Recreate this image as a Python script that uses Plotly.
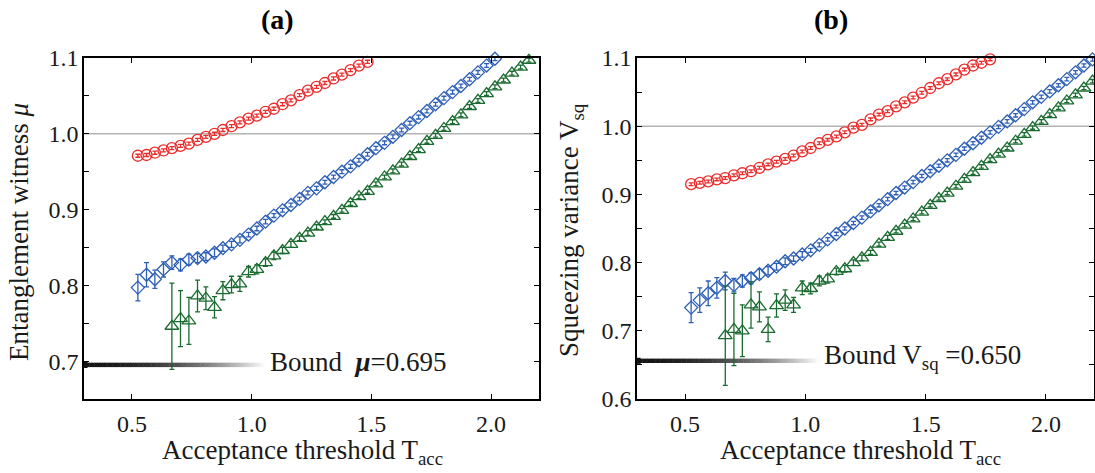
import plotly.graph_objects as go

# ---------------- data ----------------
T_acc = [0.525, 0.561, 0.596, 0.632, 0.667, 0.703, 0.738, 0.774, 0.809, 0.845,
         0.880, 0.916, 0.951, 0.987, 1.022, 1.058, 1.093, 1.129, 1.164, 1.200,
         1.235, 1.271, 1.306, 1.342, 1.377, 1.413, 1.448, 1.484, 1.519, 1.555,
         1.590, 1.626, 1.661, 1.697, 1.732, 1.768, 1.803, 1.839, 1.874, 1.910,
         1.945, 1.981, 2.016, 2.052, 2.087, 2.123, 2.158, 2.194]

# panel (a): entanglement witness mu
a_red_x = T_acc[0:28]
a_red = [0.971, 0.972, 0.975, 0.978, 0.981, 0.984, 0.987, 0.992, 0.996, 1.000,
         1.005, 1.010, 1.015, 1.020, 1.024, 1.029, 1.033, 1.039, 1.044, 1.051,
         1.057, 1.062, 1.067, 1.073, 1.078, 1.084, 1.090, 1.095]
a_red_err = [0.002] * 28

a_blue_x = T_acc[0:43]
a_blue = [0.797, 0.814, 0.808, 0.821, 0.830, 0.827, 0.834, 0.836, 0.838, 0.843,
          0.849, 0.854, 0.860, 0.867, 0.875, 0.884, 0.892, 0.899, 0.906, 0.914,
          0.922, 0.928, 0.936, 0.943, 0.950, 0.957, 0.965, 0.973, 0.981, 0.988,
          0.996, 1.005, 1.014, 1.022, 1.030, 1.039, 1.047, 1.055, 1.063, 1.072,
          1.081, 1.090, 1.099]
a_blue_err = [0.0175, 0.016, 0.012, 0.010, 0.009, 0.008, 0.007, 0.006, 0.005, 0.005,
              0.004, 0.004, 0.004, 0.003, 0.003, 0.003, 0.0025, 0.0025, 0.0025, 0.0025,
              0.0025, 0.0025, 0.0025, 0.0025, 0.0025, 0.0025, 0.0025, 0.0025, 0.0025, 0.0025,
              0.0025, 0.0025, 0.0025, 0.0025, 0.0025, 0.0025, 0.0025, 0.0025, 0.0025, 0.0025,
              0.0025, 0.0025, 0.0025]

a_green_x = T_acc[4:47]
a_green = [0.746, 0.756, 0.753, 0.786, 0.783, 0.771, 0.793, 0.801, 0.802, 0.818,
           0.821, 0.830, 0.839, 0.846, 0.854, 0.862, 0.869, 0.877, 0.884, 0.891,
           0.899, 0.908, 0.917, 0.924, 0.934, 0.943, 0.951, 0.960, 0.970, 0.979,
           0.990, 0.998, 1.007, 1.016, 1.025, 1.036, 1.044, 1.053, 1.062, 1.071,
           1.080, 1.088, 1.097]
a_green_err = [0.057, 0.037, 0.031, 0.021, 0.015, 0.014, 0.012, 0.011, 0.010, 0.007,
               0.006, 0.005, 0.005, 0.004, 0.004, 0.003, 0.003, 0.003, 0.0025, 0.0025,
               0.0025, 0.0025, 0.0025, 0.0025, 0.0025, 0.0025, 0.0025, 0.0025, 0.0025, 0.0025,
               0.0025, 0.0025, 0.0025, 0.0025, 0.0025, 0.0025, 0.0025, 0.0025, 0.0025, 0.0025,
               0.0025, 0.0025, 0.0025]

# panel (b): squeezing variance V_sq
b_red_x = T_acc[0:36]
b_red = [0.915, 0.917, 0.919, 0.922, 0.924, 0.928, 0.931, 0.934, 0.939, 0.944,
         0.948, 0.952, 0.957, 0.963, 0.968, 0.975, 0.980, 0.985, 0.991, 0.998,
         1.002, 1.010, 1.017, 1.022, 1.029, 1.035, 1.042, 1.049, 1.056, 1.063,
         1.069, 1.076, 1.083, 1.089, 1.093, 1.098]
b_red_err = [0.002] * 36

b_blue_x = T_acc[0:48]
b_blue = [0.734, 0.745, 0.755, 0.763, 0.773, 0.767, 0.773, 0.777, 0.783, 0.788,
          0.794, 0.802, 0.806, 0.812, 0.818, 0.826, 0.834, 0.842, 0.850, 0.858,
          0.866, 0.875, 0.884, 0.893, 0.902, 0.910, 0.918, 0.927, 0.934, 0.942,
          0.950, 0.958, 0.967, 0.975, 0.983, 0.991, 0.999, 1.007, 1.016, 1.025,
          1.035, 1.043, 1.051, 1.060, 1.069, 1.079, 1.089, 1.098]
b_blue_err = [0.022, 0.018, 0.018, 0.015, 0.013, 0.010, 0.009, 0.008, 0.007, 0.006,
              0.005, 0.005, 0.004, 0.004, 0.003, 0.003, 0.0025, 0.0025, 0.0025, 0.0025,
              0.0025, 0.0025, 0.0025, 0.0025, 0.0025, 0.0025, 0.0025, 0.0025, 0.0025, 0.0025,
              0.0025, 0.0025, 0.0025, 0.0025, 0.0025, 0.0025, 0.0025, 0.0025, 0.0025, 0.0025,
              0.0025, 0.0025, 0.0025, 0.0025, 0.0025, 0.0025, 0.0025, 0.0025]

b_green_x = T_acc[4:48]
b_green = [0.693, 0.702, 0.700, 0.738, 0.735, 0.702, 0.737, 0.745, 0.738, 0.763,
           0.762, 0.773, 0.776, 0.787, 0.791, 0.800, 0.807, 0.815, 0.827, 0.837,
           0.846, 0.855, 0.864, 0.874, 0.884, 0.894, 0.902, 0.912, 0.922, 0.932,
           0.941, 0.951, 0.959, 0.968, 0.978, 0.988, 0.998, 1.007, 1.017, 1.027,
           1.037, 1.046, 1.056, 1.066]
b_green_err = [0.073, 0.053, 0.038, 0.034, 0.022, 0.018, 0.017, 0.015, 0.011, 0.010,
               0.008, 0.007, 0.006, 0.005, 0.005, 0.004, 0.004, 0.003, 0.003, 0.003,
               0.0025, 0.0025, 0.0025, 0.0025, 0.0025, 0.0025, 0.0025, 0.0025, 0.0025, 0.0025,
               0.0025, 0.0025, 0.0025, 0.0025, 0.0025, 0.0025, 0.0025, 0.0025, 0.0025, 0.0025,
               0.0025, 0.0025, 0.0025, 0.0025]

bound_a_value = 0.695
bound_b_value = 0.656
bound_a_label = "Bound  <b><i>μ</i></b>=0.695"
bound_b_label = "Bound V<sub>sq</sub> =0.650"
x_ticks = [0.5, 1.0, 1.5, 2.0]
ya_ticks = [0.7, 0.8, 0.9, 1.0, 1.1]
yb_ticks = [0.6, 0.7, 0.8, 0.9, 1.0, 1.1]

# ---------------- style ----------------
RED = "#ec2b2b"
BLUE = "#2d5fb6"
GREEN = "#1a6b30"
FONT = "Liberation Serif"
W, H = 1095, 473

fig = go.Figure()


def add_series(x, y, err, color, symbol, size, xa, ya):
    fig.add_trace(go.Scatter(
        x=x, y=y, mode="markers", xaxis=xa, yaxis=ya, cliponaxis=False,
        marker=dict(symbol=symbol, size=size, color=color,
                    line=dict(color=color, width=1.3)),
        error_y=dict(type="data", array=err, color=color, thickness=1.3, width=2.5),
        showlegend=False, hoverinfo="x+y"))


add_series(a_red_x, a_red, a_red_err, RED, "circle-open", 11, "x", "y")
add_series(a_blue_x, a_blue, a_blue_err, BLUE, "diamond-open", 10, "x", "y")
add_series(a_green_x, a_green, a_green_err, GREEN, "triangle-up-open", 12, "x", "y")
add_series(b_red_x, b_red, b_red_err, RED, "circle-open", 11, "x2", "y2")
add_series(b_blue_x, b_blue, b_blue_err, BLUE, "diamond-open", 10, "x2", "y2")
add_series(b_green_x, b_green, b_green_err, GREEN, "triangle-up-open", 12, "x2", "y2")

shapes = []
# reference line at 1.0
for xr, yr in (("x", "y"), ("x2", "y2")):
    shapes.append(dict(type="line", xref=xr, yref=yr, x0=0.3, x1=2.2, y0=1.0, y1=1.0,
                       line=dict(color="#b3b3b3", width=1.6), layer="below"))


# gradient bound bars
def gradient_bar(xr, yr, yval, half):
    n = 70
    x0, x1 = 0.3, 1.055
    for i in range(n):
        t = i / (n - 1)
        c = int(22 + 228 * t ** 2)
        xa = x0 + (x1 - x0) * i / n
        xb = x0 + (x1 - x0) * (i + 1) / n
        shapes.append(dict(type="rect", xref=xr, yref=yr, x0=xa, x1=xb + 0.002,
                           y0=yval - half, y1=yval + half,
                           fillcolor=f"rgb({c},{c},{c})", line=dict(width=0),
                           layer="below"))
    shapes.append(dict(type="rect", xref=xr, yref=yr, x0=0.288, x1=0.315,
                       y0=yval - half * 1.4, y1=yval + half * 1.4,
                       fillcolor="#111111", line=dict(width=0)))


gradient_bar("x", "y", bound_a_value, 0.0029)
gradient_bar("x2", "y2", bound_b_value, 0.0032)

axis_common = dict(showline=True, linecolor="black", linewidth=1.5, mirror="ticks",
                   ticks="inside", ticklen=5, tickwidth=1.2, tickcolor="black",
                   showgrid=False, zeroline=False, automargin=False,
                   tickfont=dict(family=FONT, size=24, color="#1a1a1a"))

xa_dom = [84 / W, 539 / W]
xb_dom = [637 / W, 1094 / W]
y_dom = [(H - 399) / H, (H - 58) / H]

fig.update_layout(
    width=W, height=H, margin=dict(l=0, r=0, t=0, b=0),
    paper_bgcolor="white", plot_bgcolor="white", template="none",
    xaxis=dict(domain=xa_dom, range=[0.3, 2.2], tickvals=x_ticks, tickformat=".1f",
               anchor="y", ticklabelstandoff=2, **axis_common),
    yaxis=dict(domain=y_dom, range=[0.65, 1.1], tickvals=ya_ticks, tickformat=".1f",
               anchor="x", ticklabelstandoff=-1,
               minor=dict(dtick=0.05, ticks="inside", ticklen=5,
                          tickcolor="black", tickwidth=1.2, tick0=0.0),
               **axis_common),
    xaxis2=dict(domain=xb_dom, range=[0.3, 2.2], tickvals=x_ticks, tickformat=".1f",
                anchor="y2", ticklabelstandoff=2, **axis_common),
    yaxis2=dict(domain=y_dom, range=[0.6, 1.1], tickvals=yb_ticks, tickformat=".1f",
                anchor="x2", ticklabelstandoff=-1,
                minor=dict(dtick=0.05, ticks="inside", ticklen=5,
                           tickcolor="black", tickwidth=1.2, tick0=0.0),
                **axis_common),
    shapes=shapes,
)

tf = dict(family=FONT, size=27, color="#1a1a1a")
common_ann = dict(xref="paper", yref="paper", showarrow=False,
                  xanchor="center", yanchor="middle")
ann = [
    dict(text="<b>(a)</b>", x=277 / W, y=1 - 19 / H,
         font=dict(family=FONT, size=28, color="black"), **common_ann),
    dict(text="<b>(b)</b>", x=831 / W, y=1 - 19 / H,
         font=dict(family=FONT, size=28, color="black"), **common_ann),
    dict(text="Entanglement witness <i>μ</i>", x=19 / W, y=1 - 232 / H,
         textangle=-90, font=tf, **common_ann),
    dict(text="Squeezing variance V<sub>sq</sub>", x=571 / W, y=1 - 230 / H,
         textangle=-90, font=tf, **common_ann),
    dict(text="Acceptance threshold T<sub>acc</sub>", x=302 / W, y=1 - 452 / H,
         font=tf, **common_ann),
    dict(text="Acceptance threshold T<sub>acc</sub>", x=860 / W, y=1 - 452 / H,
         font=tf, **common_ann),
    dict(text=bound_a_label, x=1.07, y=bound_a_value + 0.004, xref="x", yref="y",
         xanchor="left", yanchor="middle", showarrow=False, font=tf),
    dict(text=bound_b_label, x=1.07, y=bound_b_value + 0.006, xref="x2", yref="y2",
         xanchor="left", yanchor="middle", showarrow=False, font=tf),
]
fig.update_layout(annotations=ann)

fig.write_html("out.html", config={"displayModeBar": False},
               post_script="document.body.style.margin='0px';"
                           "document.body.style.overflow='hidden';")
